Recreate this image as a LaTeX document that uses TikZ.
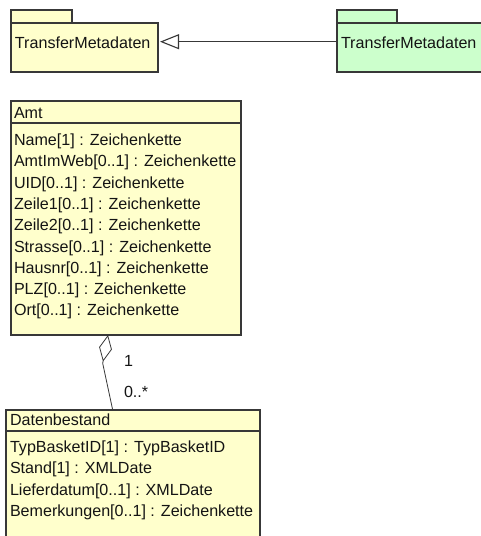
\documentclass[tikz,border=0pt]{standalone}
\usepackage{fontspec}
\setmainfont{Liberation Sans}
\usetikzlibrary{arrows.meta}
\begin{document}
\begin{tikzpicture}[x=1pt,y=-1pt,
  umlline/.style={draw={rgb,255:red,56;green,56;blue,56},line width=1.1pt},
  classbox/.style={umlline,fill={rgb,255:red,255;green,255;blue,204},inner sep=0pt,outer sep=0pt,anchor=north west},
  newpkg/.style={fill={rgb,255:red,204;green,255;blue,204}},
  umltext/.style={inner sep=0pt,outer sep=0pt,anchor=base west,text={rgb,255:red,20;green,20;blue,20},font=\fontsize{16.1}{19.3}\selectfont},
  genarrow/.style={umlline,shorten >=2pt,-{Triangle[open,length=19pt,width=15pt]}},
  aggline/.style={umlline,line width=0.8pt,{Diamond[open,length=27pt,width=13pt]}-}]
\path[use as bounding box] (0,0) rectangle (481,536);
\clip (0,0) rectangle (481,536);
\path[fill=white,draw=none] (0,0) rectangle (481,536);
% packages
\node[classbox,minimum width=61pt,minimum height=13pt] (tmAtab) at (11,10) {};
\node[classbox,minimum width=147pt,minimum height=49pt] (tmA) at (11,23) {};
\node[umltext] (tmAlbl) at (15,48) {TransferMetadaten};
\node[classbox,newpkg,minimum width=60pt,minimum height=13pt] (tmBtab) at (337,10) {};
\node[classbox,newpkg,minimum width=160pt,minimum height=49pt] (tmB) at (337,23) {};
\node[umltext] (tmBlbl) at (341,48) {TransferMetadaten};
\draw[genarrow] ([yshift=5.8pt]tmB.west) -- ([yshift=5.8pt]tmA.east);
% class Amt
\node[classbox,minimum width=230pt,minimum height=234pt] (amt) at (11,101) {};
\draw[umlline] ([yshift=-22pt]amt.north west) -- ([yshift=-22pt]amt.north east);
\node[umltext] (amtname) at (14,118) {Amt};
\foreach \attr [count=\i from 0] in {Name[1] : Zeichenkette,AmtImWeb[0..1] : Zeichenkette,UID[0..1] : Zeichenkette,Zeile1[0..1] : Zeichenkette,Zeile2[0..1] : Zeichenkette,Strasse[0..1] : Zeichenkette,Hausnr[0..1] : Zeichenkette,PLZ[0..1] : Zeichenkette,Ort[0..1] : Zeichenkette}
  \node[umltext] (amtattr\i) at (14,145.5+21.3*\i) {\attr};
% class Datenbestand
\node[classbox,minimum width=254pt,minimum height=140pt] (dat) at (6,410) {};
\draw[umlline] ([yshift=-21pt]dat.north west) -- ([yshift=-21pt]dat.north east);
\node[umltext] (datname) at (10,425) {Datenbestand};
\foreach \attr [count=\i from 0] in {TypBasketID[1] : TypBasketID,Stand[1] : XMLDate,Lieferdatum[0..1] : XMLDate,Bemerkungen[0..1] : Zeichenkette}
  \node[umltext] (datattr\i) at (10,452+21.6*\i) {\attr};
% aggregation
\coordinate (aggbend) at (102.7,363.3);
\draw[aggline] ([xshift=-18pt]amt.south) -- (aggbend) -- ([xshift=-20.3pt]dat.north);
\node[umltext] (multone) at (124,366) {1};
\node[umltext] (multmany) at (124,397) {0..*};
\end{tikzpicture}
\end{document}
